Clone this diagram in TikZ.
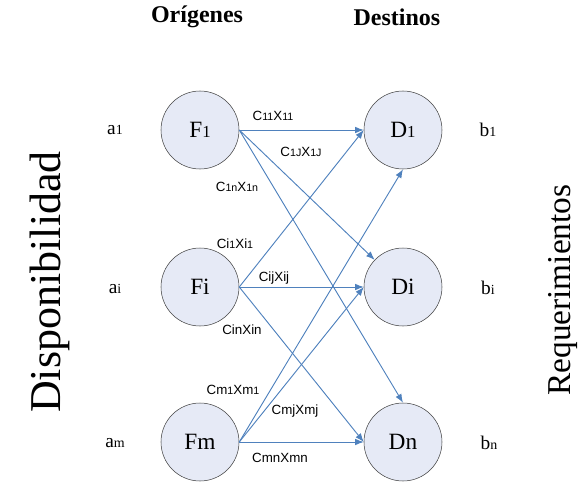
\documentclass[tikz,border=0pt]{standalone}
\usepackage{fontspec}
\usepackage{graphicx}
\setmainfont{Liberation Serif}
\newfontfamily\arialfont{Liberation Sans}
\usetikzlibrary{arrows.meta}
\definecolor{nodefill}{RGB}{230,234,246}
\definecolor{linkblue}{RGB}{79,129,189}
\newcommand{\sm}[1]{\scalebox{0.72}{#1}}
\newcommand{\smc}[1]{\scalebox{0.8}{#1}}
\begin{document}
\begin{tikzpicture}[x=0.75pt,y=-0.75pt,every node/.style={inner sep=0pt},
    place/.style={circle,draw=black!75,fill=nodefill,minimum size=58.5pt,font=\fontsize{17.5}{17.5}\selectfont},
    cost/.style={font=\arialfont\fontsize{10}{10}\selectfont},
    amount/.style={font=\fontsize{14.5}{14.5}\selectfont},
    head/.style={font=\bfseries\fontsize{18}{18}\selectfont},
    side/.style={rotate=90,font=\fontsize{33}{33}\selectfont},
    link/.style={draw=linkblue,line width=0.7pt,-{Latex[length=6.5pt,width=5pt]}}]
    \useasboundingbox (0,0) rectangle (587,483);

    \node (orig)[head] at (197,17) {Orígenes};
    \node (dest)[head] at (397,17) {Destinos};

    \node (F1)[place] at (200,130) {F\sm{1}};
    \node (Fi)[place] at (200,287) {Fi};
    \node (Fm)[place] at (200,442) {Fm};

    \node (D1)[place] at (403,130) {D\sm{1}};
    \node (Di)[place] at (403,287) {Di};
    \node (Dn)[place] at (403,442) {Dn};

    \node (a1)[amount] at (115,130) {a\sm{1}};
    \node (ai)[amount] at (115,289) {a\sm{i}};
    \node (am)[amount] at (115,443) {a\sm{m}};

    \node (b1)[amount] at (488,130) {b\sm{1}};
    \node (bi)[amount] at (488,288) {b\sm{i}};
    \node (bn)[amount] at (489,443) {b\sm{n}};

    \node (disp)[side] at (50,282) {Disponibilidad};
    \node (req)[side,font=\fontsize{25}{25}\selectfont] at (563,290) {Requerimientos};

    \node (c11)[cost] at (273,116) {C\smc{11}X\smc{11}};
    \node (c1j)[cost] at (301,152) {C\smc{1J}X\smc{1J}};
    \node (c1n)[cost] at (237,187) {C\smc{1n}X\smc{1n}};
    \node (ci1)[cost] at (235,244) {Ci\smc{1}Xi\smc{1}};
    \node (cij)[cost] at (274,278) {CijXij};
    \node (cin)[cost] at (242,330) {CinXin};
    \node (cm1)[cost] at (233,390) {Cm\smc{1}Xm\smc{1}};
    \node (cmj)[cost] at (295,411) {CmjXmj};
    \node (cmn)[cost] at (280,458) {CmnXmn};

    \foreach \from/\to in
      {F1.east/D1.west, F1.east/Di, F1.east/Dn.north,
       Fi.east/D1.west, Fi.east/Di.west, Fi.east/Dn.west,
       Fm.east/D1.south, Fm.east/Di.west, Fm.east/Dn.west}
    \draw[link] (\from) -- (\to);
\end{tikzpicture}
\end{document}
